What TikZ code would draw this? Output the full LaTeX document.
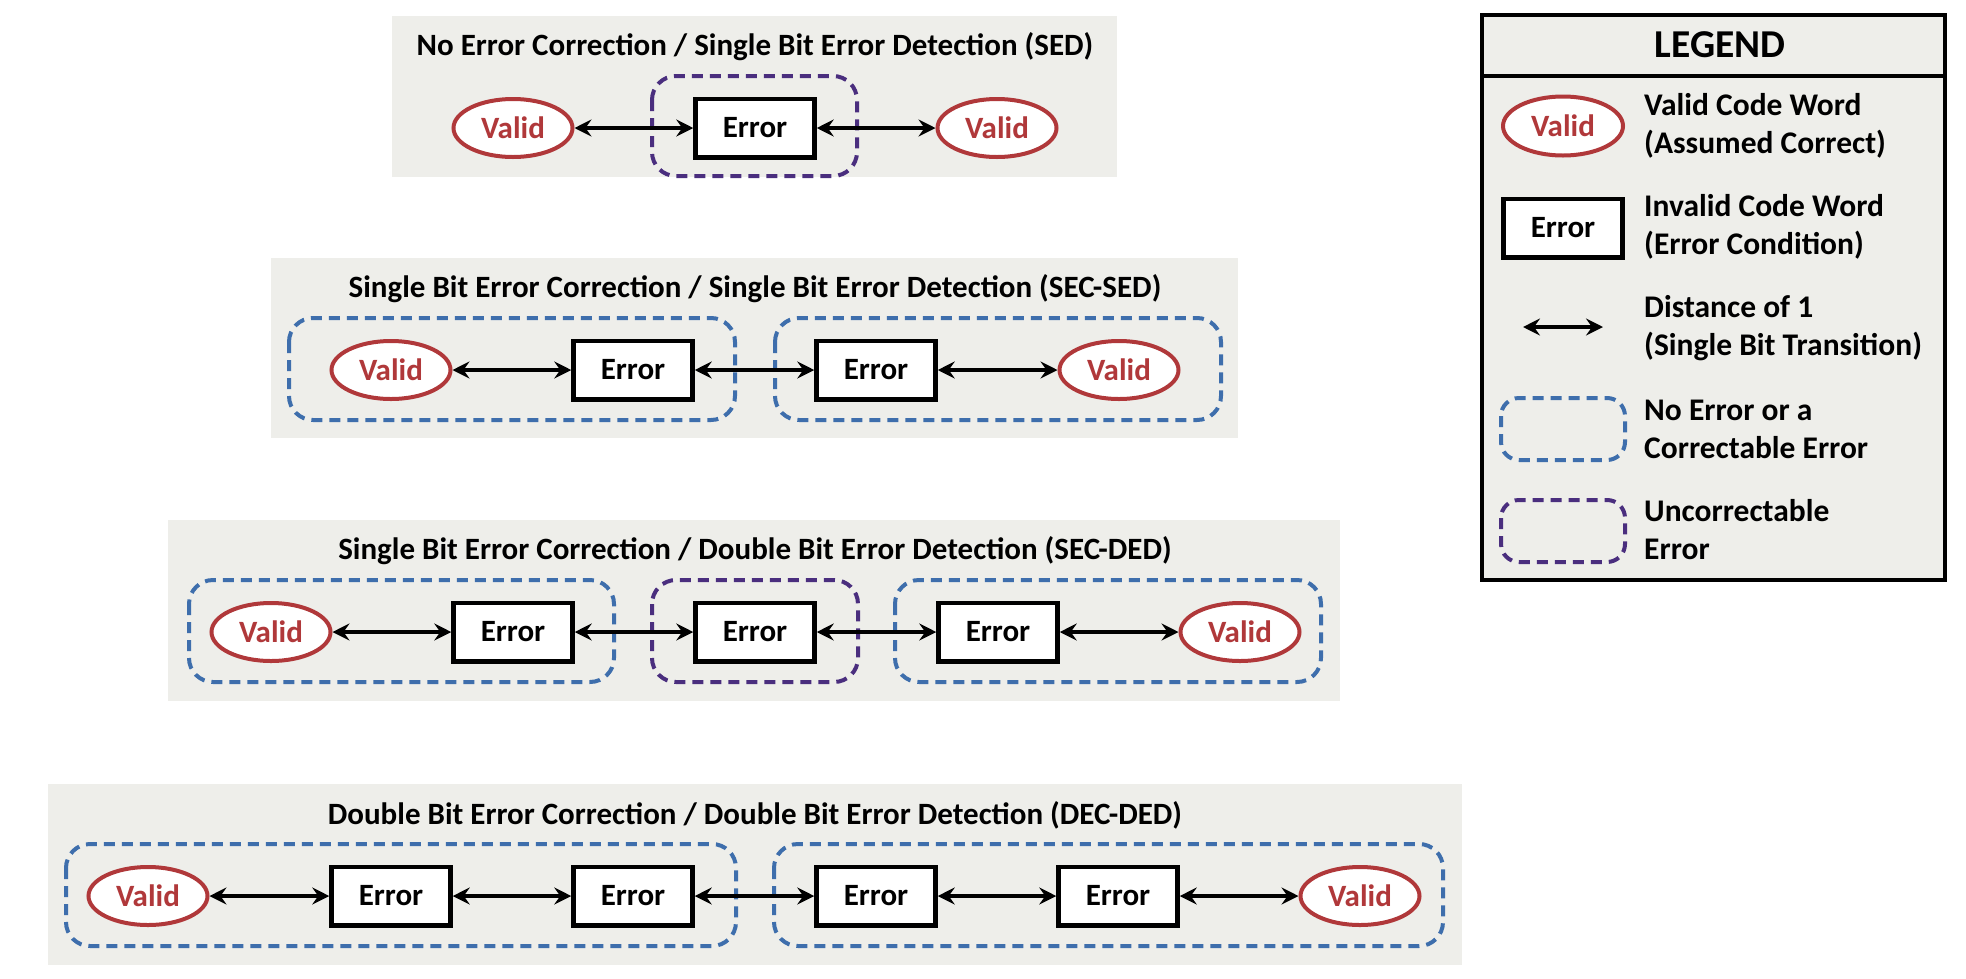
\documentclass[tikz,border=0pt]{standalone}
\usepackage{fontspec}
\setmainfont{Carlito}
\usetikzlibrary{arrows.meta,shapes.geometric}
\definecolor{panelgray}{RGB}{238,238,234}
\definecolor{validred}{RGB}{176,56,58}
\definecolor{okblue}{RGB}{62,110,172}
\definecolor{badpurple}{RGB}{74,46,126}
\tikzset{
  panel/.style={fill=panelgray, draw=none},
  ptitle/.style={font=\fontsize{31}{37}\selectfont\bfseries, anchor=center, inner sep=0pt},
  valid/.style={ellipse, draw=validred, line width=4pt, fill=white, minimum width=119pt, minimum height=58pt, inner sep=0pt, text=validred, font=\fontsize{31}{37}\selectfont\bfseries},
  err/.style={rectangle, draw=black, line width=4.5pt, fill=white, minimum width=119pt, minimum height=58.5pt, inner sep=0pt, font=\fontsize{31}{37}\selectfont\bfseries},
  dist/.style={line width=3.5pt, {Stealth[length=17pt,width=17pt,inset=6pt]}-{Stealth[length=17pt,width=17pt,inset=6pt]}},
  okzone/.style={draw=okblue, line width=4pt, dash pattern=on 11pt off 7pt, rounded corners=24pt},
  badzone/.style={draw=badpurple, line width=4pt, dash pattern=on 11pt off 7pt, rounded corners=24pt},
  legtext/.style={anchor=west, align=left, inner sep=0pt, font=\fontsize{31.5}{38}\selectfont\bfseries},
}
\begin{document}
\begin{tikzpicture}[x=1pt,y=-1pt]
\useasboundingbox (0,0) rectangle (1966,978);
% ---------- Panel 1 ----------
\fill[panel] (392,16) rectangle (1117,177);
\node[ptitle] (t1) at (755,47) {No Error Correction / Single Bit Error Detection (SED)};
\draw[badzone] (652,76) rectangle (857,176);
\node[valid] (p1v1) at (513,128) {Valid};
\node[err]   (p1e1) at (755,128) {Error};
\node[valid] (p1v2) at (997,128) {Valid};
\draw[dist] (p1v1) -- (p1e1);
\draw[dist] (p1e1) -- (p1v2);
% ---------- Panel 2 ----------
\fill[panel] (271,258) rectangle (1238,438);
\node[ptitle] (t2) at (755,289) {Single Bit Error Correction / Single Bit Error Detection (SEC-SED)};
\draw[okzone] (289,318) rectangle (735,420);
\draw[okzone] (775,318) rectangle (1221,420);
\node[valid] (p2v1) at (391,370) {Valid};
\node[err]   (p2e1) at (633,370) {Error};
\node[err]   (p2e2) at (876,370) {Error};
\node[valid] (p2v2) at (1119,370) {Valid};
\draw[dist] (p2v1) -- (p2e1);
\draw[dist] (p2e1) -- (p2e2);
\draw[dist] (p2e2) -- (p2v2);
% ---------- Panel 3 ----------
\fill[panel] (168,520) rectangle (1340,701);
\node[ptitle] (t3) at (755,551) {Single Bit Error Correction / Double Bit Error Detection (SEC-DED)};
\draw[okzone] (189,580) rectangle (614,682);
\draw[badzone] (652,580) rectangle (858,682);
\draw[okzone] (895,580) rectangle (1321,682);
\node[valid] (p3v1) at (271,632) {Valid};
\node[err]   (p3e1) at (513,632) {Error};
\node[err]   (p3e2) at (755,632) {Error};
\node[err]   (p3e3) at (998,632) {Error};
\node[valid] (p3v2) at (1240,632) {Valid};
\draw[dist] (p3v1) -- (p3e1);
\draw[dist] (p3e1) -- (p3e2);
\draw[dist] (p3e2) -- (p3e3);
\draw[dist] (p3e3) -- (p3v2);
% ---------- Panel 4 ----------
\fill[panel] (48,784) rectangle (1462,965);
\node[ptitle] (t4) at (755,815) {Double Bit Error Correction / Double Bit Error Detection (DEC-DED)};
\draw[okzone] (66,844) rectangle (736,946);
\draw[okzone] (774,844) rectangle (1443,946);
\node[valid] (p4v1) at (148,896) {Valid};
\node[err]   (p4e1) at (391,896) {Error};
\node[err]   (p4e2) at (633,896) {Error};
\node[err]   (p4e3) at (876,896) {Error};
\node[err]   (p4e4) at (1118,896) {Error};
\node[valid] (p4v2) at (1360,896) {Valid};
\draw[dist] (p4v1) -- (p4e1);
\draw[dist] (p4e1) -- (p4e2);
\draw[dist] (p4e2) -- (p4e3);
\draw[dist] (p4e3) -- (p4e4);
\draw[dist] (p4e4) -- (p4v2);
% ---------- Legend ----------
\draw[fill=panelgray, line width=4pt] (1482,15) rectangle (1945,580);
\draw[line width=4pt] (1482,76) -- (1945,76);
\node[font=\fontsize{39.5}{46}\selectfont\bfseries, inner sep=0pt] (lt) at (1720,45) {LEGEND};
\node[valid, minimum width=120pt, minimum height=59pt] (lv) at (1563,126) {Valid};
\node[legtext] (lvt) at (1644,126) {Valid Code Word\\(Assumed Correct)};
\node[err] (le) at (1563,228) {Error};
\node[legtext] (let) at (1644,227) {Invalid Code Word\\(Error Condition)};
\coordinate (la1) at (1523,327);
\coordinate (la2) at (1603,327);
\draw[dist] (la1) -- (la2);
\node[legtext] (lat) at (1644,328) {Distance of 1\\(Single Bit Transition)};
\draw[okzone, rounded corners=18pt] (1501,398) rectangle (1625,460);
\node[legtext] (lbt) at (1644,429) {No Error or a\\Correctable Error};
\draw[badzone, rounded corners=18pt] (1501,500) rectangle (1625,562);
\node[legtext] (lpt) at (1644,530) {Uncorrectable\\Error};
\end{tikzpicture}
\end{document}
